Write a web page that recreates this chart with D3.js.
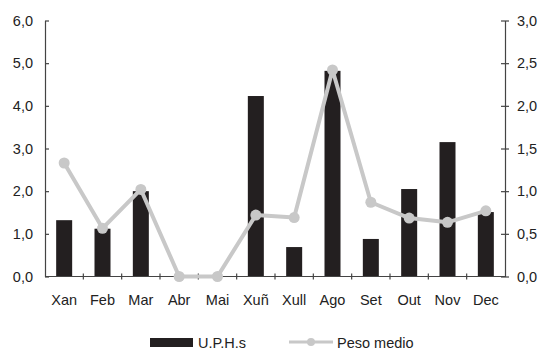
<!DOCTYPE html>
<html><head><meta charset="utf-8">
<script src="https://cdn.jsdelivr.net/npm/d3@7"></script>
<style>body{margin:0;background:#fff}svg{display:block}text{font-family:"Liberation Sans",Arial,sans-serif;fill:#222}</style>
</head><body><svg id="c" width="541" height="350"></svg>
<script>
const months = ["Xan","Feb","Mar","Abr","Mai","Xuñ","Xull","Ago","Set","Out","Nov","Dec"];
const uphs = [1.32,1.12,2.0,0,0,4.23,0.69,4.82,0.88,2.05,3.15,1.51];
const peso = [1.33,0.565,1.02,0,0,0.72,0.69,2.42,0.87,0.685,0.635,0.77];
const leftTicks = [0,1,2,3,4,5,6];
const rightTicks = [0,0.5,1,1.5,2,2.5,3];
const seriesNames = ["U.P.H.s","Peso medio"];

const svg = d3.select("#c");
const x0 = 45, x1 = 505, yTop = 20.5, yBot = 276.5;
const x = d3.scaleBand().domain(months).range([x0, x1]);
const yL = d3.scaleLinear().domain([0,6]).range([yBot, yTop]);
const yR = d3.scaleLinear().domain([0,3]).range([yBot, yTop]);
const fmt = d => d3.format(".1f")(d).replace(".", ",");
const axisColor = "#444";
const fs = "14.5px";

// bars
svg.append("g").selectAll("rect").data(months).join("rect")
  .attr("x", d => x(d) + x.bandwidth()/2 - 8)
  .attr("width", 16)
  .attr("y", (d,i) => yL(uphs[i]))
  .attr("height", (d,i) => yBot - yL(uphs[i]))
  .attr("fill", "#231f20");

// axes
function styleAxis(g){
  g.select(".domain").attr("stroke", axisColor).attr("stroke-width", 1.2);
  g.selectAll(".tick line").attr("stroke", axisColor).attr("stroke-width", 1.2);
  g.selectAll(".tick text").style("font-size",fs).attr("fill","#222");
}
const gl = svg.append("g").attr("transform",`translate(${x0},0)`)
  .call(d3.axisLeft(yL).tickValues(leftTicks).tickFormat(fmt).tickSizeInner(4).tickSizeOuter(0).tickPadding(8));
styleAxis(gl);
gl.selectAll(".tick line").attr("x2", 4);
const gr = svg.append("g").attr("transform",`translate(${x1},0)`)
  .call(d3.axisRight(yR).tickValues(rightTicks).tickFormat(fmt).tickSizeInner(4).tickSizeOuter(0).tickPadding(8));
styleAxis(gr);
gr.selectAll(".tick line").attr("x1", -4);

// x axis
const gx = svg.append("g").attr("transform",`translate(0,${yBot})`);
gx.append("line").attr("x1", x0).attr("x2", x1).attr("stroke", axisColor).attr("stroke-width", 1.2);
gx.selectAll("line.t").data(months.slice(1)).join("line").attr("class","t")
  .attr("x1", d => x(d)).attr("x2", d => x(d)).attr("y1", -3).attr("y2", 3)
  .attr("stroke", axisColor).attr("stroke-width", 1.2);
gx.selectAll("text").data(months).join("text")
  .attr("x", d => x(d) + x.bandwidth()/2).attr("y", 28.5)
  .attr("text-anchor","middle").style("font-size",fs).text(d => d);

// line
const lineColor = "#c8c8c8";
const pts = months.map((m,i) => [x(m) + x.bandwidth()/2, yR(peso[i])]);
svg.append("path").attr("d", d3.line()(pts)).attr("fill","none")
  .attr("stroke", lineColor).attr("stroke-width", 4).attr("stroke-linejoin","round");
svg.append("g").selectAll("circle").data(pts).join("circle")
  .attr("cx", d => d[0]).attr("cy", d => d[1]).attr("r", 5.5).attr("fill", lineColor);

// legend
const lg = svg.append("g");
lg.append("rect").attr("x",150).attr("y",338).attr("width",43).attr("height",9).attr("fill","#231f20");
lg.append("text").attr("x",198).attr("y",348).style("font-size",fs).text(seriesNames[0]);
lg.append("line").attr("x1",289).attr("x2",333).attr("y1",342).attr("y2",342).attr("stroke",lineColor).attr("stroke-width",3);
lg.append("circle").attr("cx",311).attr("cy",342).attr("r",4).attr("fill",lineColor);
lg.append("text").attr("x",337).attr("y",348).style("font-size",fs).text(seriesNames[1]);
</script></body></html>
